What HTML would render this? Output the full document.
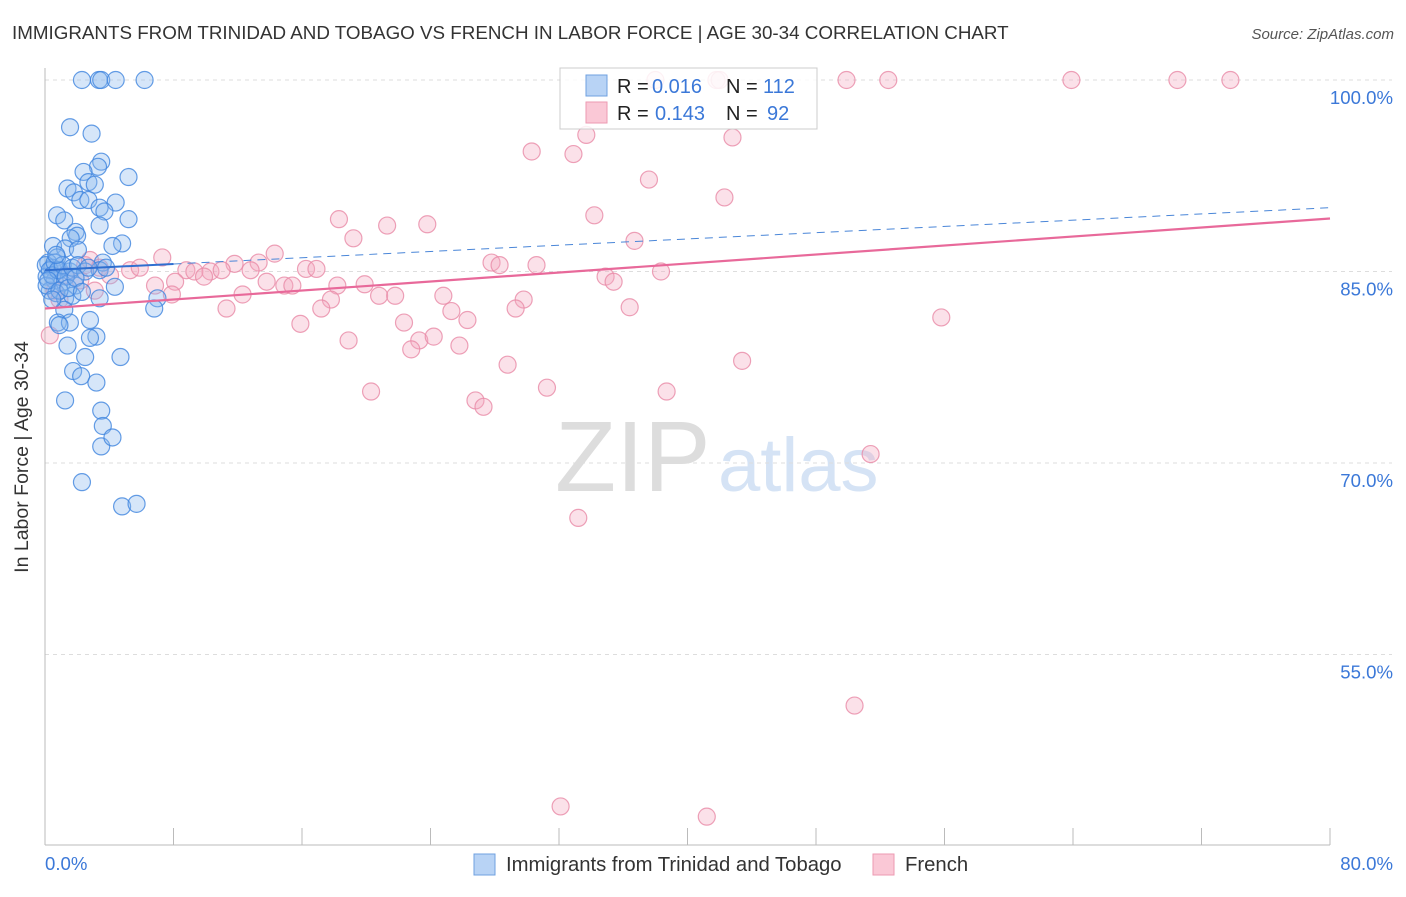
<!DOCTYPE html>
<html><head><meta charset="utf-8"><style>
body{margin:0;background:#fff;font-family:"Liberation Sans",sans-serif;}
svg text{font-family:"Liberation Sans",sans-serif;}
</style></head><body>
<svg id="chart" width="1406" height="892">
<text x="12" y="39" font-size="18.8" fill="#333">IMMIGRANTS FROM TRINIDAD AND TOBAGO VS FRENCH IN LABOR FORCE | AGE 30-34 CORRELATION CHART</text>
<text x="1394" y="39" font-size="15" fill="#555" font-style="italic" text-anchor="end">Source: ZipAtlas.com</text>
<g>
<text x="555" y="491" font-size="100" fill="#ddd" font-family="Liberation Serif">ZIP</text>
<text x="718" y="491" font-size="76" fill="#d5e3f5">atlas</text>
</g>
<g id="grid"></g><g id="axes"></g><g id="marks"></g><g id="trends"></g>
<g>
<rect x="560" y="68" width="257" height="61" fill="#fff" fill-opacity="0.85" stroke="#ccc"/>
<rect x="586" y="75" width="21" height="21" fill="#b8d3f5" stroke="#6fa0e0"/>
<rect x="586" y="102" width="21" height="21" fill="#fac8d6" stroke="#ec9ab2"/>
<text y="93" font-size="20" fill="#222"><tspan x="617">R =</tspan><tspan x="652" fill="#3b78d8">0.016</tspan><tspan x="726">N =</tspan><tspan x="763" fill="#3b78d8">112</tspan></text>
<text y="120" font-size="20" fill="#222"><tspan x="617">R =</tspan><tspan x="655" fill="#3b78d8">0.143</tspan><tspan x="726">N =</tspan><tspan x="767" fill="#3b78d8">92</tspan></text>
</g>
<g>
<rect x="474" y="854" width="21" height="21" fill="#b8d3f5" stroke="#6fa0e0"/>
<text x="506" y="871" font-size="20.3" fill="#333">Immigrants from Trinidad and Tobago</text>
<rect x="873" y="854" width="21" height="21" fill="#fac8d6" stroke="#ec9ab2"/>
<text x="905" y="871" font-size="20.3" fill="#333">French</text>
</g>
<text x="28" y="457" font-size="19.5" fill="#333" text-anchor="middle" transform="rotate(-90 28 457)">In Labor Force | Age 30-34</text>
</svg>
<script>
const yTicks=[100,85,70,55];
const yTickLabels=["100.0%","85.0%","70.0%","55.0%"];
const xTickLabels=["0.0%","80.0%"];
const blueX=[2.3,3.36,3.5,4.4,6.2,1.56,2.9,3.5,3.3,2.4,5.2,2.7,3.1,1.4,1.8,2.2,2.7,3.4,4.4,3.7,0.75,5.2,1.2,3.4,1.9,2.0,1.6,4.8,4.2,0.5,1.25,2.05,0.75,3.6,0.2,0.45,0.9,1.55,0.1,0.6,1.05,1.9,0.3,0.7,1.25,1.7,3.4,7.0,4.35,6.8,1.2,0.8,2.8,1.55,0.9,3.2,2.8,1.4,2.5,4.7,1.75,2.25,3.2,1.25,3.5,3.6,3.5,4.2,2.3,4.8,5.7,0.05,0.3,0.6,0.1,0.45,0.8,1.1,1.3,1.7,2.05,2.5,0.7,0.2,0.9,1.45,1.9,2.3,0.45,3.4,3.8,2.7];
const blueY=[100,100,100,100,100,96.3,95.8,93.6,93.2,92.8,92.4,92.0,91.8,91.5,91.2,90.6,90.6,90.0,90.4,89.7,89.4,89.1,89.0,88.6,88.1,87.8,87.6,87.2,87.0,87.0,86.8,86.7,86.1,85.7,85.7,85.3,85.1,85.0,84.6,84.3,84.1,83.9,83.5,83.3,82.9,83.1,82.9,82.9,83.8,82.1,82.0,81.0,81.2,81.0,80.8,79.9,79.8,79.2,78.3,78.3,77.2,76.8,76.3,74.9,74.1,72.9,71.3,72.0,68.5,66.6,66.8,85.5,85.1,85.7,83.9,84.7,85.1,85.5,84.6,85.3,85.5,85.0,86.3,84.3,83.5,83.7,84.5,83.4,82.8,85.1,85.3,85.3];
const pinkX=[38.0,41.8,42.0,49.9,52.5,63.9,70.5,73.8,33.7,30.3,32.9,42.8,37.6,42.3,34.2,18.3,21.3,23.8,19.2,36.7,14.3,7.3,11.8,13.3,16.25,16.9,27.8,28.3,30.6,34.9,35.4,38.35,8.8,9.3,10.3,11.0,12.8,9.9,8.1,6.85,7.9,12.3,13.8,14.9,15.4,18.2,19.9,24.8,20.8,21.8,17.8,17.2,25.3,11.3,26.3,29.8,29.3,36.4,15.9,22.35,55.8,18.9,23.3,24.2,22.8,25.8,43.4,28.8,20.3,31.25,38.7,26.8,27.3,51.4,33.2,50.4,32.1,41.2,0.6,0.9,0.3,2.5,2.8,3.4,5.3,4.05,2.2,1.25,3.1,5.9];
const pinkY=[100,100,100,100,100,100,100,100,95.7,94.4,94.2,95.5,92.2,90.8,89.4,89.1,88.6,88.7,87.6,87.4,86.4,86.1,85.6,85.7,85.2,85.2,85.7,85.5,85.5,84.6,84.2,85.0,85.1,85.0,85.0,85.1,85.1,84.6,84.2,83.9,83.2,83.2,84.2,83.9,83.9,83.9,84.0,83.1,83.1,83.1,82.8,82.1,81.9,82.1,81.2,82.8,82.1,82.2,80.9,81.0,81.4,79.6,79.6,79.9,78.9,79.2,78.0,77.7,75.6,75.9,75.6,74.9,74.4,70.7,65.7,51.0,43.1,42.3,83.5,82.8,80.0,85.5,85.9,85.3,85.1,84.7,84.3,84.7,83.5,85.3];
const blueTrend=[85.1,90.0];
const pinkTrend=[82.1,89.15];
const NS="http://www.w3.org/2000/svg";
const X0=45,X1=1330,Y100=80,PXPER=191.5/15;
function sx(v){return X0+(v/80)*(X1-X0);}
function sy(v){return Y100+(100-v)*PXPER;}
function mk(t,a,p){const e=document.createElementNS(NS,t);for(const k in a)e.setAttribute(k,a[k]);p.appendChild(e);return e;}
const grid=document.getElementById('grid'),axes=document.getElementById('axes'),marks=document.getElementById('marks'),trends=document.getElementById('trends');
yTicks.forEach((v,i)=>{
 const l=mk('line',{x1:X0,x2:1392,y1:sy(v),y2:sy(v),stroke:'#ddd','stroke-dasharray':'4,4'},grid);
 
 
 const t=mk('text',{x:1393,y:sy(v)+24,'font-size':18.6,fill:'#3b78d8','text-anchor':'end'},axes);
 t.textContent=yTickLabels[i];
 
 
});
const ya=mk('line',{x1:X0,x2:X0,y1:68,y2:845,stroke:'#bbb'},axes);


const xa=mk('line',{x1:X0,x2:X1,y1:845,y2:845,stroke:'#bbb'},axes);


for(let i=0;i<=10;i++){
 const tk=mk('line',{x1:sx(i*8),x2:sx(i*8),y1:828,y2:845,stroke:'#bbb'},axes);
 
 
}
[[0,'start',45],[80,'end',1393]].forEach((d,i)=>{
 const t=mk('text',{x:d[2],y:870,'font-size':18.6,fill:'#3b78d8','text-anchor':d[1]},axes);
 t.textContent=xTickLabels[i];
 
 
});
function dots(xs,ys,fill,stroke,name){
 xs.forEach((x,i)=>{
  const c=mk('circle',{cx:sx(x),cy:sy(ys[i]),r:8.5,fill:fill,'fill-opacity':0.35,stroke:stroke,'stroke-opacity':0.8,'stroke-width':1.2},marks);
  
  
 });
}
dots(pinkX,pinkY,'#f4a8bf','#e88aa6','french-point');
dots(blueX,blueY,'#8ab8ee','#3f84de','immigrants-point');
const bs=mk('line',{x1:sx(0),y1:sy(blueTrend[0]),x2:sx(8),y2:sy(blueTrend[0]+(blueTrend[1]-blueTrend[0])*0.1),stroke:'#2f6fd0','stroke-width':2},trends);


const bd=mk('line',{x1:sx(8),y1:sy(blueTrend[0]+(blueTrend[1]-blueTrend[0])*0.1),x2:sx(80),y2:sy(blueTrend[1]),stroke:'#4a86d8','stroke-width':1,'stroke-dasharray':'8,6'},trends);


const pt=mk('line',{x1:sx(0),y1:sy(pinkTrend[0]),x2:sx(80),y2:sy(pinkTrend[1]),stroke:'#e8699a','stroke-width':2.2},trends);


</script>
</body></html>
